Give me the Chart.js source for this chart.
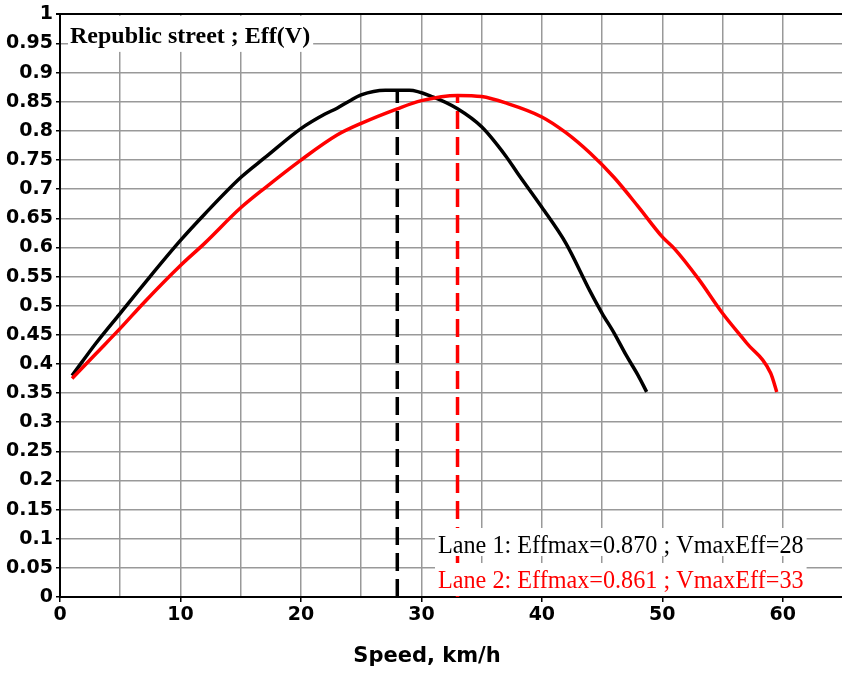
<!DOCTYPE html>
<html>
<head>
<meta charset="utf-8">
<script src="https://cdn.jsdelivr.net/npm/chart.js@4.4.1/dist/chart.umd.min.js"></script>
<style>
    html, body { margin: 0; padding: 0; background: #fff; overflow: hidden; }
</style>
</head>
<body>
<canvas id="effChart" width="845" height="676"></canvas>
<script>
// Lane 1 (black)
const lane1Speed = [1, 3, 5, 7, 10, 12, 15, 17, 20, 22, 23, 24, 25, 27, 29, 31, 33, 35, 37, 38, 40, 42, 44, 45, 46, 47, 48, 48.7];
const lane1Eff = [0.380, 0.436, 0.487, 0.538, 0.612, 0.657, 0.720, 0.754, 0.804, 0.829, 0.839, 0.851, 0.862, 0.870, 0.870, 0.858, 0.838, 0.807, 0.757, 0.727, 0.669, 0.607, 0.525, 0.487, 0.453, 0.415, 0.380, 0.352];

// Lane 2 (red)
const lane2Speed = [1, 3, 5, 7, 10, 12, 15, 17, 20, 23, 25, 28, 30, 33, 35, 37, 40, 42, 44, 46, 48, 50, 51, 53, 55, 57, 59, 59.5];
const lane2Eff = [0.375, 0.418, 0.461, 0.506, 0.569, 0.607, 0.668, 0.702, 0.750, 0.793, 0.813, 0.838, 0.852, 0.861, 0.859, 0.848, 0.824, 0.797, 0.762, 0.720, 0.670, 0.618, 0.598, 0.546, 0.487, 0.436, 0.384, 0.352];

// maximum efficiency points
const peakSpeed = [28, 33];
const peakEff = [0.870, 0.861];

const chartTitle = 'Republic street ; Eff(V)';
const xTitle = 'Speed, km/h';
const laneNotes = [
    `Lane 1: Effmax=${peakEff[0].toFixed(3)} ; VmaxEff=${peakSpeed[0]}`,
    `Lane 2: Effmax=${peakEff[1].toFixed(3)} ; VmaxEff=${peakSpeed[1]}`
];
const laneColors = ['#000000', '#ff0000'];

const toPoints = (xs, ys) => xs.map((x, i) => ({ x: x, y: ys[i] }));

const tickFont = { family: 'DejaVu Sans', weight: 'bold', size: 19 };

// title box, lane notes and axis title
const notesPlugin = {
    id: 'notes',
    afterDatasetsDraw(chart) {
        const { ctx, chartArea } = chart;
        ctx.save();
        ctx.textBaseline = 'alphabetic';

        ctx.font = 'bold 24px "Liberation Serif"';
        const tw = ctx.measureText(chartTitle).width;
        ctx.fillStyle = '#fff';
        ctx.fillRect(chartArea.left + 8, chartArea.top + 1.5, tw + 5, 36);
        ctx.fillStyle = '#000';
        ctx.fillText(chartTitle, chartArea.left + 10, chartArea.top + 29);

        ctx.font = '24.2px "Liberation Serif"';
        const baselines = [553, 588];
        laneNotes.forEach((txt, i) => {
            const w = ctx.measureText(txt).width;
            ctx.fillStyle = '#fff';
            const top = baselines[i] - 25;
            const bottom = i === 0 ? baselines[i] + 3 : chartArea.bottom - 1;
            ctx.fillRect(435, top, w + 6, bottom - top);
            ctx.fillStyle = laneColors[i];
            ctx.fillText(txt, 438, baselines[i]);
        });
        ctx.restore();
    },
    afterDraw(chart) {
        const { ctx } = chart;
        ctx.save();
        ctx.font = 'bold 21px "DejaVu Sans"';
        ctx.fillStyle = '#000';
        ctx.textAlign = 'center';
        ctx.textBaseline = 'middle';
        ctx.fillText(xTitle, 427, 657);
        ctx.restore();
    }
};

new Chart(document.getElementById('effChart'), {
    type: 'line',
    data: {
        datasets: [
            {
                label: 'Lane 2',
                data: toPoints(lane2Speed, lane2Eff),
                borderColor: laneColors[1],
                borderWidth: 3.5,
                pointRadius: 0,
                cubicInterpolationMode: 'monotone',
                order: 0
            },
            {
                label: 'Lane 1',
                data: toPoints(lane1Speed, lane1Eff),
                borderColor: laneColors[0],
                borderWidth: 3.5,
                pointRadius: 0,
                cubicInterpolationMode: 'monotone',
                order: 1
            },
            {
                label: 'Lane 1 max',
                data: [{ x: peakSpeed[0], y: 0 }, { x: peakSpeed[0], y: peakEff[0] }],
                borderColor: laneColors[0],
                borderWidth: 3.5,
                borderDash: [18, 8],
                pointRadius: 0,
                order: 2
            },
            {
                label: 'Lane 2 max',
                data: [{ x: peakSpeed[1], y: 0 }, { x: peakSpeed[1], y: peakEff[1] }],
                borderColor: laneColors[1],
                borderWidth: 3.5,
                borderDash: [18, 8],
                pointRadius: 0,
                order: 3
            }
        ]
    },
    options: {
        responsive: false,
        animation: false,
        layout: { padding: { top: 14, right: 0, left: 0, bottom: 0 } },
        plugins: {
            legend: { display: false },
            tooltip: { enabled: false }
        },
        scales: {
            x: {
                type: 'linear',
                min: 0,
                max: 65,
                afterFit: (s) => { s.height = 79; },
                ticks: {
                    stepSize: 5,
                    autoSkip: false,
                    maxRotation: 0,
                    color: '#000',
                    font: tickFont,
                    padding: 2,
                    callback: (v) => (v % 10 === 0 ? v : '')
                },
                grid: {
                    color: '#999',
                    lineWidth: 1.5,
                    tickLength: 5,
                    tickColor: (c) => (c.tick && c.tick.value % 10 === 0 ? '#000' : 'rgba(0,0,0,0)')
                },
                border: { color: '#000', width: 2 }
            },
            y: {
                min: 0,
                max: 1,
                afterFit: (s) => { s.width = 60; },
                ticks: {
                    stepSize: 0.05,
                    autoSkip: false,
                    color: '#000',
                    font: tickFont,
                    padding: 3,
                    callback: (v) => String(+v.toFixed(2))
                },
                grid: {
                    color: (c) => (c.tick && c.tick.value >= 1 ? '#000' : '#999'),
                    lineWidth: (c) => (c.tick && c.tick.value >= 1 ? 2 : 1.5),
                    tickLength: 4,
                    tickColor: '#000'
                },
                border: { color: '#000', width: 2 }
            }
        }
    },
    plugins: [notesPlugin]
});
</script>
</body>
</html>
